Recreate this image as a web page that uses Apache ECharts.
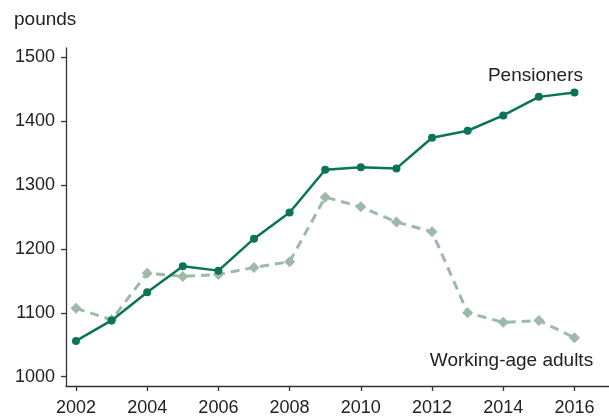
<!DOCTYPE html>
<html>
<head>
<meta charset="utf-8">
<script src="https://cdn.jsdelivr.net/npm/echarts@6/dist/echarts.min.js"></script>
<style>
  html, body { margin: 0; padding: 0; background: #fff; }
  #chart { width: 609px; height: 417px; }
</style>
</head>
<body>
<div id="chart"></div>
<script>
const years = [2002, 2003, 2004, 2005, 2006, 2007, 2008, 2009, 2010, 2011, 2012, 2013, 2014, 2015, 2016]
const pensioners = [1056, 1088, 1132, 1173, 1166, 1216, 1257, 1324, 1328, 1326, 1374, 1385, 1409, 1438, 1445]
const workingAge = [1107, 1089, 1162, 1157, 1160, 1171, 1180, 1281, 1266, 1242, 1227, 1100, 1085, 1088, 1061]
const xTicks = [2002, 2004, 2006, 2008, 2010, 2012, 2014, 2016]
const yTicks = [1000, 1100, 1200, 1300, 1400, 1500]

const font = '"Liberation Sans", Arial, sans-serif'
const darkGreen = '#0a7358'
const lightGreen = '#9dbaa9'

const toPoints = vals => vals.map((v, i) => [years[i], v])

const lastLabel = (text, offset) => ({
  show: true,
  position: 'inside',
  offset: offset,
  formatter: text,
  color: '#222',
  fontSize: 19,
  fontFamily: font
})

const pensData = toPoints(pensioners)
pensData[pensData.length - 1] = { value: pensData[pensData.length - 1], label: lastLabel('Pensioners', [-39, -17]) }
const workData = toPoints(workingAge)
workData[workData.length - 1] = { value: workData[workData.length - 1], label: lastLabel('Working-age adults', [-63, 23]) }

const chart = echarts.init(document.getElementById('chart'))
chart.setOption({
  animation: false,
  textStyle: { fontFamily: font },
  grid: { left: 66, right: 0, top: 48, bottom: 29 },
  graphic: [{
    type: 'text', left: 14, top: 10,
    style: { text: 'pounds', fontSize: 19, fontFamily: font, fill: '#222' }
  }],
  xAxis: {
    type: 'value',
    min: 2001.72, max: 2016.97,
    axisLine: { lineStyle: { color: '#333', width: 1.3 } },
    axisTick: { show: true, length: 5, customValues: xTicks, lineStyle: { color: '#333', width: 1.3 } },
    axisLabel: { customValues: xTicks, color: '#222', fontSize: 18, margin: 13, formatter: v => String(v) },
    splitLine: { show: false }
  },
  yAxis: {
    type: 'value',
    min: 985.4, max: 1514.5,
    axisLine: { show: true, lineStyle: { color: '#333', width: 1.3 } },
    axisTick: { show: true, length: 5, customValues: yTicks, lineStyle: { color: '#333', width: 1.3 } },
    axisLabel: { customValues: yTicks, color: '#222', fontSize: 18, margin: 11, formatter: v => String(v) },
    splitLine: { show: false }
  },
  series: [
    {
      name: 'Working-age adults',
      type: 'line',
      data: workData,
      symbol: 'diamond',
      symbolSize: 11,
      itemStyle: { color: lightGreen },
      lineStyle: { color: lightGreen, width: 3, type: [9, 6] },
      z: 2
    },
    {
      name: 'Pensioners',
      type: 'line',
      data: pensData,
      symbol: 'circle',
      symbolSize: 8,
      itemStyle: { color: darkGreen },
      lineStyle: { color: darkGreen, width: 2.5 },
      z: 3
    }
  ]
})
</script>
</body>
</html>
